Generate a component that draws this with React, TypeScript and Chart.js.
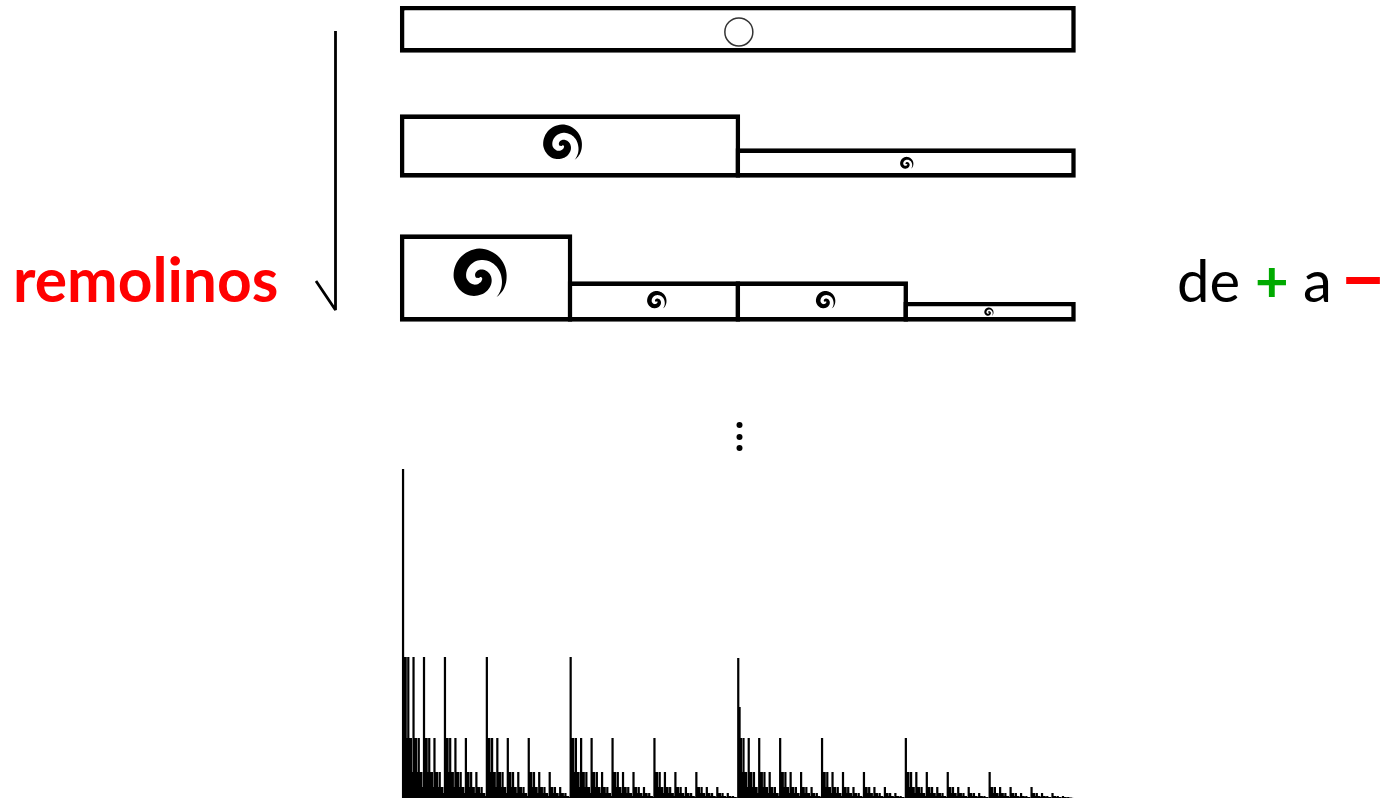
import React, { useEffect, useRef } from "react";
import { Chart, registerables } from "chart.js";

Chart.register(...registerables);

// Energy per eddy at each splitting step, read from the three boxed rows (row 1 height = 1)
const step1Values = [1];
const step2Values = [1.358, 0.63];
const step3Values = [1.871, 0.865, 0.865, 0.422];

// Bottom spectrum: heights, sixteen bars per block
const block0 = [329, 141, 141, 60, 141, 60, 60, 26, 141, 60, 60, 26, 60, 26, 26, 11];
const block1 = [141, 60, 60, 26, 60, 26, 26, 11, 60, 26, 26, 11, 26, 11, 11, 5];
const blockMid = [140, 91, 60, 26, 60, 26, 26, 11, 60, 26, 26, 11, 26, 11, 11, 5];
const block2 = [60, 26, 26, 11, 26, 11, 11, 5, 26, 11, 11, 5, 11, 5, 5, 2];
const block3 = [26, 11, 11, 5, 11, 5, 5, 2, 11, 5, 5, 2, 5, 2, 2, 1];
const block4 = [11, 5, 5, 2, 5, 2, 2, 1, 5, 2, 2, 1, 2, 1, 1, 0.4];
const block5 = [5, 2, 2, 1, 2, 1, 1, 0.4, 2, 1, 1, 0.4, 1, 0.4, 0.4, 0.2];
const spectrum = [
  ...block0, ...block1, ...block1, ...block2, ...block1, ...block2, ...block2, ...block3,
  ...block1, ...block2, ...block2, ...block3, ...block2, ...block3, ...block3, ...block4,
  ...blockMid, ...block2, ...block2, ...block3, ...block2, ...block3, ...block3, ...block4,
  ...block2, ...block3, ...block3, ...block4, ...block3, ...block4, ...block4, ...block5,
];

const FONT = "Lato, 'Open Sans', sans-serif";
const STROKE = 4.6;
const BOX_L = 402.2;
const BOX_R = 1073.5;

// Spiral outline: [angle deg, radius, band thickness] from the tail to the head
const spiralKeys: number[][] = [
  [48, 77, 0],
  [25, 76, 8],
  [0, 74, 15],
  [-45, 73, 26],
  [-90, 71, 35],
  [-135, 65, 38],
  [-180, 58, 38],
  [-225, 46, 38],
  [-270, 33, 36],
  [-315, 26, 32],
  [-360, 22, 28],
  [-405, 17, 26],
  [-450, 13, 24],
  [-495, 8, 20],
  [-540, 4, 10],
];

function drawSpiral(ctx: CanvasRenderingContext2D, cx: number, cy: number, size: number) {
  const k = size / 78;
  const outer: number[][] = [];
  const inner: number[][] = [];
  for (let i = 0; i < spiralKeys.length - 1; i++) {
    const [a0, r0, t0] = spiralKeys[i];
    const [a1, r1, t1] = spiralKeys[i + 1];
    for (let s = 0; s < 8; s++) {
      const f = s / 8;
      const a = ((a0 + (a1 - a0) * f) * Math.PI) / 180;
      const r = r0 + (r1 - r0) * f;
      const t = t0 + (t1 - t0) * f;
      outer.push([cx + Math.cos(a) * (r + t / 2) * k, cy + Math.sin(a) * (r + t / 2) * k]);
      const ri = Math.max(r - t / 2, 0);
      inner.push([cx + Math.cos(a) * ri * k, cy + Math.sin(a) * ri * k]);
    }
  }
  ctx.beginPath();
  outer.forEach((p, i) => (i ? ctx.lineTo(p[0], p[1]) : ctx.moveTo(p[0], p[1])));
  inner.reverse().forEach((p) => ctx.lineTo(p[0], p[1]));
  ctx.closePath();
  ctx.fillStyle = "#000";
  ctx.filter = "blur(0.5px)";
  ctx.fill();
  ctx.filter = "none";
}

type Glyph = { kind: "circle" | "spiral"; size: number; dx: number; dy: number };

const glyphPlugin = {
  id: "eddyGlyphs",
  afterDatasetsDraw(chart: any, _a: any, opts: any) {
    const glyphs: Glyph[] = opts.glyphs || [];
    const ctx = chart.ctx;
    const els = chart.getDatasetMeta(0).data;
    glyphs.forEach((g, i) => {
      const el = els[i];
      const x = el.x + g.dx;
      const y = (el.y + el.base) / 2 + g.dy;
      ctx.save();
      if (g.kind === "circle") {
        ctx.beginPath();
        ctx.arc(x, y, g.size, 0, Math.PI * 2);
        ctx.strokeStyle = "#333";
        ctx.lineWidth = 1.5;
        ctx.stroke();
      } else {
        drawSpiral(ctx, x, y, g.size);
      }
      ctx.restore();
    });
  },
};

function baseOptions(pad: any, yMax: number) {
  return {
    responsive: false,
    animation: false as const,
    layout: { padding: pad },
    plugins: { legend: { display: false }, tooltip: { enabled: false } },
    events: [],
    scales: {
      x: { type: "category" as const, display: false },
      y: { type: "linear" as const, display: false, min: 0, max: yMax },
    },
  };
}

function BoxRow(props: {
  values: number[];
  labels: string[];
  top: number;
  height: number;
  plotTop: number;
  plotBottom: number;
  glyphs: Glyph[];
}) {
  const ref = useRef<HTMLCanvasElement>(null);
  const { values, labels, top, height, plotTop, plotBottom, glyphs } = props;
  useEffect(() => {
    const w = (BOX_R - BOX_L) / values.length;
    const opts: any = baseOptions(
      { left: BOX_L - 395, right: 1085 - BOX_R, top: plotTop - top, bottom: top + height - plotBottom },
      Math.max(...values)
    );
    opts.plugins.eddyGlyphs = { glyphs };
    const chart = new Chart(ref.current as HTMLCanvasElement, {
      type: "bar",
      plugins: [glyphPlugin],
      data: {
        labels,
        datasets: [
          {
            data: values,
            backgroundColor: "#fff",
            borderColor: "#000",
            borderWidth: STROKE,
            borderSkipped: false,
            categoryPercentage: 1,
            barPercentage: (w + STROKE) / w,
            clip: false,
          } as any,
        ],
      },
      options: opts,
    });
    return () => chart.destroy();
  }, []);
  return (
    <canvas
      ref={ref}
      width={690}
      height={height}
      style={{ position: "absolute", left: 395, top, width: 690, height }}
    />
  );
}

function Spectrum() {
  const ref = useRef<HTMLCanvasElement>(null);
  useEffect(() => {
    const chart = new Chart(ref.current as HTMLCanvasElement, {
      type: "bar",
      data: {
        labels: spectrum.map((_, i) => String(i + 1)),
        datasets: [
          {
            data: spectrum,
            backgroundColor: "#000",
            borderWidth: 0,
            categoryPercentage: 1,
            barPercentage: 1.7,
            clip: false,
          } as any,
        ],
      },
      options: baseOptions({ left: 402.4 - 395, right: 1085 - 1072.8, top: 9, bottom: 1 }, 329) as any,
    });
    return () => chart.destroy();
  }, []);
  return (
    <canvas
      ref={ref}
      width={690}
      height={339}
      style={{ position: "absolute", left: 395, top: 460, width: 690, height: 339, filter: "blur(0.4px)" }}
    />
  );
}

const textBase: React.CSSProperties = {
  position: "absolute",
  fontFamily: FONT,
  lineHeight: "60px",
  whiteSpace: "pre",
  color: "#000",
};

export default function App() {
  return (
    <div style={{ position: "fixed", left: 0, top: 0, width: 1385, height: 799, background: "#fff", overflow: "hidden" }}>
      <BoxRow
        values={step1Values}
        labels={["1"]}
        top={0}
        height={60}
        plotTop={6}
        plotBottom={52.7}
        glyphs={[{ kind: "circle", size: 14, dx: 1, dy: 2.6 }]}
      />
      <BoxRow
        values={step2Values}
        labels={["1", "2"]}
        top={110}
        height={72}
        plotTop={114.3}
        plotBottom={177.7}
        glyphs={[
          { kind: "spiral", size: 19, dx: -8, dy: 0 },
          { kind: "spiral", size: 6.5, dx: 0.9, dy: 1.2 },
        ]}
      />
      <BoxRow
        values={step3Values}
        labels={["1", "2", "3", "4"]}
        top={230}
        height={96}
        plotTop={234.3}
        plotBottom={321.7}
        glyphs={[
          { kind: "spiral", size: 26, dx: -6.7, dy: 0 },
          { kind: "spiral", size: 9.5, dx: 2.6, dy: 0.2 },
          { kind: "spiral", size: 9.5, dx: 3.6, dy: 0.2 },
          { kind: "spiral", size: 4.5, dx: -0.8, dy: 0.8 },
        ]}
      />
      <Spectrum />
      <svg width={1385} height={799} style={{ position: "absolute", left: 0, top: 0, pointerEvents: "none" }}>
        <path d="M335.5 31 L335.5 310 L316 281" fill="none" stroke="#000" strokeWidth={2.8} strokeLinejoin="bevel" />
        <circle cx={739.5} cy={425} r={3} fill="#000" />
        <circle cx={739.5} cy={437} r={3} fill="#000" />
        <circle cx={739.5} cy={448} r={3} fill="#000" />
      </svg>
      <span style={{ ...textBase, left: 13, top: 249, fontSize: 60.5, fontWeight: 700, color: "#ff0000" }}>remolinos</span>
      <span style={{ ...textBase, left: 1177, top: 250, fontSize: 58 }}>de</span>
      <span style={{ ...textBase, left: 1255, top: 250, fontSize: 58, fontWeight: 700, color: "#00aa00" }}>+</span>
      <span style={{ ...textBase, left: 1303, top: 250, fontSize: 58 }}>a</span>
      <span style={{ ...textBase, left: 1341, top: 247, fontSize: 76, fontWeight: 700, color: "#ff0000" }}>−</span>
    </div>
  );
}
